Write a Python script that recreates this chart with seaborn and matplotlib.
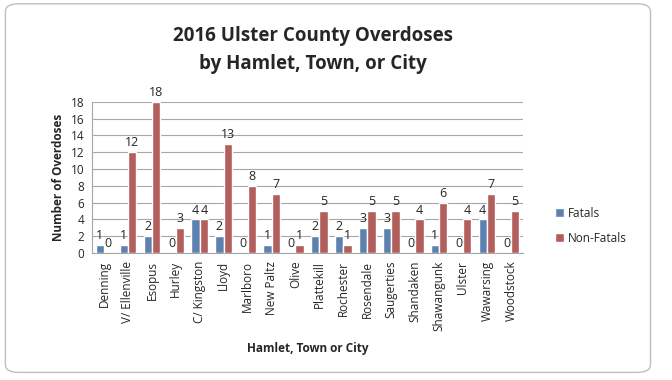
import matplotlib
matplotlib.use('Agg')
import matplotlib.pyplot as plt
import pandas as pd
import seaborn as sns
from matplotlib.patches import FancyBboxPatch

places = ['Denning', 'V/ Ellenville', 'Esopus', 'Hurley', 'C/ Kingston', 'Lloyd',
          'Marlboro', 'New Paltz', 'Olive', 'Plattekill', 'Rochester', 'Rosendale',
          'Saugerties', 'Shandaken', 'Shawangunk', 'Ulster', 'Wawarsing', 'Woodstock']
fatals = [1, 1, 2, 0, 4, 2, 0, 1, 0, 2, 2, 3, 3, 0, 1, 0, 4, 0]
non_fatals = [0, 12, 18, 3, 4, 13, 8, 7, 1, 5, 1, 5, 5, 4, 6, 4, 7, 5]

df = pd.DataFrame({'place': places, 'Fatals': fatals, 'Non-Fatals': non_fatals})
long = df.melt(id_vars='place', var_name='type', value_name='count')

sns.set_style('white')
plt.rcParams['font.family'] = ['Open Sans', 'DejaVu Sans']

fig = plt.figure(figsize=(6.72, 3.8), dpi=100)
ax = fig.add_axes([0.137, 0.334, 0.641, 0.398])

sns.barplot(data=long, x='place', y='count', hue='type',
            palette=['#4F81BD', '#C0504D'], width=0.7, ax=ax, zorder=3)

for c in ax.containers:
    ax.bar_label(c, fontsize=9, padding=2)

ax.set_ylim(0, 18)
ax.set_yticks(range(0, 19, 2))
ax.yaxis.grid(True, color='#a6a6a6', linewidth=0.8, zorder=0)
ax.tick_params(axis='y', labelsize=8.5, pad=2)
ax.tick_params(axis='x', labelsize=8.5, rotation=90, pad=2)
for s in ['top', 'right']:
    ax.spines[s].set_visible(False)
ax.spines['left'].set_color('#a6a6a6')
ax.spines['bottom'].set_color('#a6a6a6')
ax.set_ylabel('Number of Overdoses', fontsize=8.5, fontweight='bold')
ax.set_xlabel('Hamlet, Town or City', fontsize=8.5, fontweight='bold', labelpad=8)

ax.legend(title=None, frameon=False, fontsize=8.5, loc='center left',
          bbox_to_anchor=(1.05, 0.18), handlelength=0.8, handleheight=0.8,
          labelspacing=1.0, handletextpad=0.3)

fig.text(0.466, 0.868, '2016 Ulster County Overdoses\nby Hamlet, Town, or City',
         ha='center', va='center', fontsize=13.5, fontweight='bold', linespacing=1.5)

border = FancyBboxPatch((0.008, 0.02), 0.96, 0.97, boxstyle='round,pad=0,rounding_size=0.02',
                        transform=fig.transFigure, fill=False, edgecolor='#bfbfbf', linewidth=1)
fig.patches.append(border)

fig.savefig('out.png', dpi=100)
